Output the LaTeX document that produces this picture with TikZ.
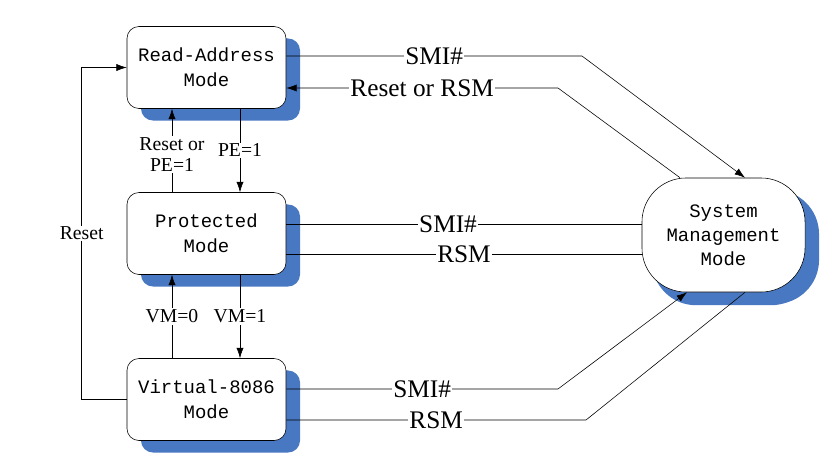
\documentclass[tikz,border=0pt]{standalone}
\usepackage{fontspec}
\setmainfont{Liberation Serif}
\newfontfamily\modefont{Liberation Mono}
\usepackage{tikz}
\usetikzlibrary{arrows.meta,calc,shadows}

\definecolor{shadowblue}{RGB}{72,120,194}

\begin{document}
\begin{tikzpicture}[
x=0.025cm, y=-0.025cm,
modebox/.style={
draw,
fill=white,
rounded corners=0.3cm,
minimum width=3.975cm,
minimum height=2.05cm,
inner sep=0pt,
align=center,
font=\modefont\fontsize{13.5}{17.8}\selectfont,
drop shadow={shadow xshift=0.35cm, shadow yshift=-0.3cm, fill=shadowblue, opacity=1}
},
smmbox/.style={
modebox,
rounded corners=1.1cm,
minimum width=4.075cm,
minimum height=2.85cm,
font=\modefont\fontsize{13.5}{17}\selectfont,
drop shadow={shadow xshift=0.25cm, shadow yshift=-0.33cm, fill=shadowblue, opacity=1}
},
arr/.style={-{Latex[length=2.6mm,width=1.8mm]}},
biglbl/.style={fill=white, inner sep=1pt, font=\fontsize{18}{20}\selectfont},
smalllbl/.style={fill=white, inner sep=1pt, align=center, font=\fontsize{14}{15}\selectfont}
]
\useasboundingbox (0,0) rectangle (832,453);

\node[modebox] (RA) at (206.5,67.5) {Read-Address\\Mode};

\node[modebox] (PM) at (206.5,233.5) {Protected\\Mode};

\node[modebox] (VM) at (206.5,399.5) {Virtual-8086\\Mode};

\node[smmbox] (SMM) at (723.5,235) {System\\Management\\Mode};

% left side: reset loop and vertical transitions
\draw[arr] (VM.west) -- ++(-45,0) |- node[pos=0.25,smalllbl]{Reset} (RA.west);
\draw[arr] ($(RA.south)+(33.5,0)$) -- node[smalllbl]{PE=1} ($(PM.north)+(33.5,0)$);
\draw[arr] ($(PM.north)+(-34.5,0)$) -- node[smalllbl,pos=0.45]{Reset or\\PE=1} ($(RA.south)+(-34.5,0)$);
\draw[arr] ($(PM.south)+(33.5,0)$) -- node[smalllbl]{VM=1} ($(VM.north)+(33.5,0)$);
\draw[arr] ($(VM.north)+(-34.5,0)$) -- node[smalllbl]{VM=0} ($(PM.south)+(-34.5,0)$);

% to and from system management mode
\draw[arr] ($(RA.east)+(0,-11.5)$) -- node[biglbl]{SMI\#} (582,56) -- ($(SMM.north)+(21.5,0)$);
\draw[arr] ($(SMM.north)+(-43.5,0)$) -- (558,88) -- node[biglbl]{Reset or RSM} ($(RA.east)+(0,20.5)$);

\coordinate (pmsmi) at ($(PM.east)+(0,-9.5)$);
\coordinate (pmrsm) at ($(PM.east)+(0,20.5)$);
\draw (pmsmi) -- node[biglbl,pos=0.455]{SMI\#} (pmsmi -| SMM.west);
\draw (pmrsm) -- node[biglbl]{RSM} (pmrsm -| SMM.west);

\draw[arr] ($(VM.east)+(0,-10.5)$) -- node[biglbl]{SMI\#} (558,389) -- ($(SMM.south)+(-36.5,0)$);
\draw ($(SMM.south)+(21.5,0)$) -- (586,420) -- node[biglbl]{RSM} ($(VM.east)+(0,20.5)$);

\end{tikzpicture}
\end{document}
